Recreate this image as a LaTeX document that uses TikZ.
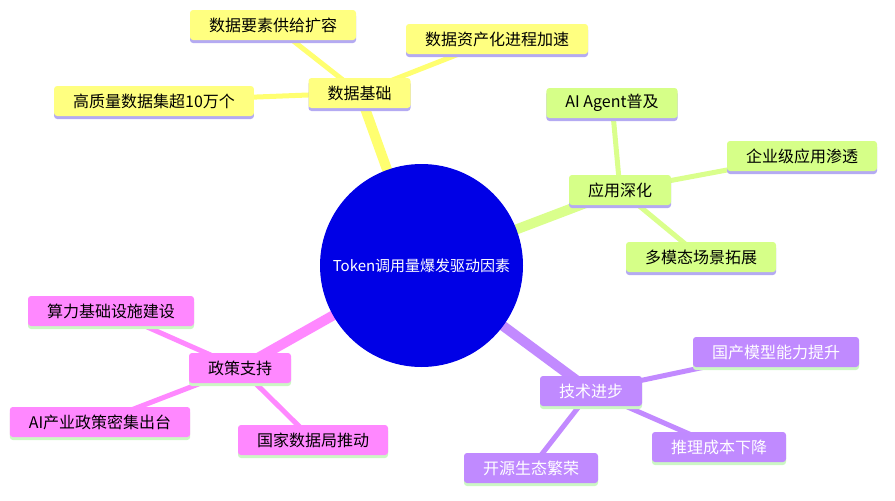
\documentclass[tikz,border=0pt]{standalone}
\usepackage{fontspec}
\setmainfont{Noto Sans CJK SC}
\usetikzlibrary{shadows}
\definecolor{yfill}{HTML}{FFFF80}
\definecolor{yline}{HTML}{FFFF70}
\definecolor{gfill}{HTML}{D6FF88}
\definecolor{gline}{HTML}{DAFF8C}
\definecolor{pfill}{HTML}{FF88FF}
\definecolor{pline}{HTML}{FF88FF}
\definecolor{vfill}{HTML}{C08AFF}
\definecolor{vline}{HTML}{C28AFF}
\definecolor{lav}{HTML}{B4AAF2}
\definecolor{lgr}{HTML}{CCF7C4}
\definecolor{core}{HTML}{0000E6}
\pgfdeclarelayer{background}
\pgfsetlayers{background,main}
\tikzset{
  box/.style={rounded corners=3pt, minimum height=30pt, inner xsep=19pt, inner ysep=0pt,
    font=\fontsize{16}{16}\selectfont, text=black},
  ybox/.style={box, fill=yfill, drop shadow={shadow xshift=0pt, shadow yshift=-3pt, fill=lav, opacity=1}},
  gbox/.style={box, fill=gfill, drop shadow={shadow xshift=0pt, shadow yshift=-3pt, fill=lav, opacity=1}},
  pbox/.style={box, fill=pfill, drop shadow={shadow xshift=0pt, shadow yshift=-3pt, fill=lgr, opacity=1}},
  vbox/.style={box, fill=vfill, text=white, drop shadow={shadow xshift=0pt, shadow yshift=-3pt, fill=lgr, opacity=1}},
  mainline/.style={line width=10pt},
  leafline/.style={line width=5pt},
}
\begin{document}
\begin{tikzpicture}[x=1pt,y=-1pt]
\useasboundingbox (0,0) rectangle (895,501);
\node[circle, fill=core, minimum size=203pt, inner sep=0pt, text=white, font=\fontsize{15}{15}\selectfont] (c) at (421.5,265.5) {Token调用量爆发驱动因素};

\node[ybox] (y) at (359.5,93) {数据基础};
\node[ybox] (y1) at (273,25) {数据要素供给扩容};
\node[ybox] (y2) at (497,39) {数据资产化进程加速};
\node[ybox] (y3) at (154,101) {高质量数据集超10万个};

\node[gbox] (g) at (620,190) {应用深化};
\node[gbox] (g1) at (612,103) {AI Agent普及};
\node[gbox] (g2) at (802,156) {企业级应用渗透};
\node[gbox] (g3) at (701,257) {多模态场景拓展};

\node[pbox] (p) at (240,368) {政策支持};
\node[pbox] (p1) at (111,311) {算力基础设施建设};
\node[pbox] (p2) at (100,422) {AI产业政策密集出台};
\node[pbox] (p3) at (313,440) {国家数据局推动};

\node[vbox] (v) at (591,391) {技术进步};
\node[vbox] (v1) at (776,352) {国产模型能力提升};
\node[vbox] (v2) at (719,447) {推理成本下降};
\node[vbox] (v3) at (531,468) {开源生态繁荣};

\begin{pgfonlayer}{background}
\draw[mainline, yline] (c.center) -- (y.center);
\draw[mainline, gline] (c.center) -- (g.center);
\draw[mainline, pline] (c.center) -- (p.center);
\draw[mainline, vline] (c.center) -- (v.center);
\foreach \i in {1,2,3} {
  \draw[leafline, yline] (y.center) -- (y\i.center);
  \draw[leafline, gline] (g.center) -- (g\i.center);
  \draw[leafline, pline] (p.center) -- (p\i.center);
  \draw[leafline, vline] (v.center) -- (v\i.center);
}
\end{pgfonlayer}
\end{tikzpicture}
\end{document}
